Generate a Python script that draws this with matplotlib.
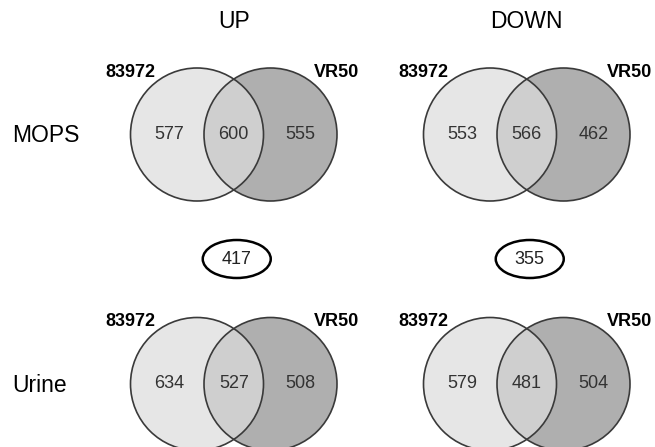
import matplotlib.pyplot as plt
from matplotlib.patches import Circle, Ellipse

plt.rcParams['font.family'] = ['Liberation Sans', 'DejaVu Sans']

# venn counts: (left only, shared, right only)
columns = ['UP', 'DOWN']
rows = ['MOPS', 'Urine']
strains = ['83972', 'VR50']
mops_up = [577, 600, 555]
mops_down = [553, 566, 462]
urine_up = [634, 527, 508]
urine_down = [579, 481, 504]
common = [417, 355]  # shared between MOPS and Urine

counts = {('MOPS', 'UP'): mops_up, ('MOPS', 'DOWN'): mops_down,
          ('Urine', 'UP'): urine_up, ('Urine', 'DOWN'): urine_down}

# layout in pixel units (y downwards)
col_x = {'UP': 197, 'DOWN': 490}
row_y = {'MOPS': 134.5, 'Urine': 384}
r = 66.5
sep = 73.5

fig = plt.figure(figsize=(6.55, 4.47), dpi=100)
ax = fig.add_axes([0, 0, 1, 1])
ax.set_xlim(0, 655)
ax.set_ylim(447, 0)
ax.set_aspect('equal')
ax.axis('off')

edge = '#3a3a3a'
for row in rows:
    for col in columns:
        lx, cy = col_x[col], row_y[row]
        rx = lx + sep
        left = Circle((lx, cy), r, facecolor='#e6e6e6', edgecolor='none', zorder=1)
        right = Circle((rx, cy), r, facecolor='#afafaf', edgecolor='none', zorder=1)
        ax.add_patch(left)
        ax.add_patch(right)
        lens = Circle((lx, cy), r, facecolor='#cfcfcf', edgecolor='none', zorder=2)
        ax.add_patch(lens)
        lens.set_clip_path(right)
        for x in (lx, rx):
            ax.add_patch(Circle((x, cy), r, facecolor='none', edgecolor=edge, lw=1.2, zorder=3))
        a, b, c = counts[(row, col)]
        ax.text(lx - 28, cy, str(a), ha='center', va='center', fontsize=13, color='#333333', zorder=4)
        ax.text((lx + rx) / 2, cy, str(b), ha='center', va='center', fontsize=13, color='#333333', zorder=4)
        ax.text(rx + 30, cy, str(c), ha='center', va='center', fontsize=13, color='#333333', zorder=4)
        ax.text(lx - 92, cy - 62, strains[0], ha='left', va='center', fontsize=13, fontweight='bold')
        ax.text(rx + 89, cy - 62, strains[1], ha='right', va='center', fontsize=13, fontweight='bold')

for col, n in zip(columns, common):
    mx = col_x[col] + sep / 2
    ax.text(mx, 22, col, ha='center', va='center', fontsize=16.5)
    ax.add_patch(Ellipse((mx + 3, 259), 68, 38, facecolor='white', edgecolor='black', lw=1.8))
    ax.text(mx + 3, 259, str(n), ha='center', va='center', fontsize=13, color='#222222')

for row in rows:
    ax.text(12, row_y[row] + 1, row, ha='left', va='center', fontsize=16.5)

fig.savefig('out.png', dpi=100)
